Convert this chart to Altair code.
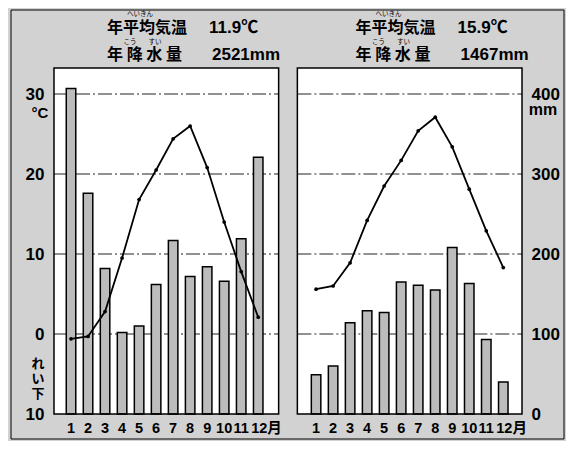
import altair as alt
import pandas as pd

# ---------------- data ----------------
months = list(range(1, 13))
month_labels = ["1", "2", "3", "4", "5", "6", "7", "8", "9", "10", "11", "12月"]
temp_a = [-0.6, -0.3, 2.8, 9.5, 16.8, 20.5, 24.4, 26.0, 20.8, 14.0, 7.8, 2.1]
prec_a = [407, 276, 182, 102, 110, 162, 217, 172, 184, 166, 219, 321]
temp_b = [5.6, 6.0, 8.9, 14.2, 18.5, 21.7, 25.4, 27.1, 23.4, 18.1, 12.9, 8.3]
prec_b = [49, 60, 114, 129, 127, 165, 161, 155, 208, 163, 93, 40]
title_a = ["年平均気温", "11.9℃", "年 降 水 量", "2521mm"]
title_b = ["年平均気温", "15.9℃", "年 降 水 量", "1467mm"]
temp_ticks = [30, 20, 10, 0, -10]
prec_ticks = [400, 300, 200, 100, 0]
grid_levels = [100, 200, 300, 400]

# ---------------- layout ----------------
W, H = 478, 346
PREC_DOM = [0, 432.5]
TEMP_DOM = [-10, 33.25]
X_DOM = [0, 27.5]
OFFSETS = [0.0, 14.4]
SPANS = [(0.0, 13.2), (14.3, 27.5)]
PANEL_PX = [0.0, W * 14.3 / 27.5]

NUM_FONT = "Liberation Sans Narrow, Liberation Sans, Noto Sans CJK JP"
JP_FONT = "Noto Sans CJK JP"
BG = "#d2d2d2"

rows = []
for name, off, temps, precs in zip(["A", "B"], OFFSETS, [temp_a, temp_b], [prec_a, prec_b]):
    for m, lab, t, p in zip(months, month_labels, temps, precs):
        rows.append({"panel": name, "month": m, "label": lab, "xpos": m + off, "temp": t, "prec": p})
df = pd.DataFrame(rows)

panels = pd.DataFrame({"panel": ["A", "B"],
                       "x0": [s[0] for s in SPANS], "x1": [s[1] for s in SPANS],
                       "y0": [PREC_DOM[0]] * 2, "y1": [PREC_DOM[1]] * 2})
grid = pd.DataFrame([{"x0": s[0], "x1": s[1], "level": lv} for s in SPANS for lv in grid_levels])

xs = alt.Scale(domain=X_DOM, nice=False, zero=False)
ps = alt.Scale(domain=PREC_DOM, nice=False, zero=False)
ts = alt.Scale(domain=TEMP_DOM, nice=False, zero=False)

frame = alt.Chart(pd.DataFrame({"a": [0]})).mark_rect(fill="transparent", stroke="black", strokeWidth=1).encode(
    x=alt.value(-38), x2=alt.value(W + 37), y=alt.value(-58), y2=alt.value(H + 25))

panel_fill = alt.Chart(panels).mark_rect(fill="white", strokeWidth=0).encode(
    x=alt.X("x0:Q", scale=xs, axis=None), x2="x1:Q",
    y=alt.Y("y0:Q", scale=ps, axis=None), y2="y1:Q")

grid_rules = alt.Chart(grid).mark_rule(color="#222222", strokeWidth=1, strokeDash=[14, 3, 2, 3]).encode(
    x=alt.X("x0:Q", scale=xs, axis=None), x2="x1:Q",
    y=alt.Y("level:Q", scale=ps, axis=None))

bars = alt.Chart(df).mark_bar(size=9.5, fill="#bcbcbc", stroke="black", strokeWidth=1.5).encode(
    x=alt.X("xpos:Q", scale=xs, axis=None),
    y=alt.Y("prec:Q", scale=ps,
            axis=alt.Axis(orient="right", values=prec_ticks, domain=False, ticks=False, grid=False,
                          title=None, labelFont=NUM_FONT, labelFontSize=17, labelFontWeight="bold",
                          labelColor="black", labelPadding=4, labelOverlap=False, labelFlush=False)))

line = alt.Chart(df).mark_line(color="black", strokeWidth=1.8).encode(
    x=alt.X("xpos:Q", scale=xs, axis=None),
    y=alt.Y("temp:Q", scale=ts,
            axis=alt.Axis(orient="left", values=temp_ticks, labelExpr="'' + abs(datum.value)",
                          domain=False, ticks=False, grid=False, title=None,
                          labelFont=NUM_FONT, labelFontSize=17, labelFontWeight="bold",
                          labelColor="black", labelPadding=5, labelOverlap=False, labelFlush=False)),
    detail="panel:N")

pts = alt.Chart(df).mark_point(filled=True, color="black", size=14, opacity=1).encode(
    x=alt.X("xpos:Q", scale=xs, axis=None),
    y=alt.Y("temp:Q", scale=ts, axis=None))

panel_border = alt.Chart(panels).mark_rect(fill="transparent", stroke="black", strokeWidth=1.5).encode(
    x=alt.X("x0:Q", scale=xs, axis=None), x2="x1:Q",
    y=alt.Y("y0:Q", scale=ps, axis=None), y2="y1:Q")

month_text = alt.Chart(df).transform_filter("datum.month < 12").mark_text(
    font=NUM_FONT, fontSize=14.5, fontWeight="bold", color="black",
    baseline="middle", align="center").encode(
    x=alt.X("xpos:Q", scale=xs, axis=None), y=alt.value(H + 15), text="label:N")

month_last = alt.Chart(df).transform_filter("datum.month == 12").mark_text(
    font=NUM_FONT, fontSize=14.5, fontWeight="bold", color="black",
    baseline="middle", align="left", dx=-7).encode(
    x=alt.X("xpos:Q", scale=xs, axis=None), y=alt.value(H + 15), text="label:N")

one = pd.DataFrame({"a": [0]})


def txt(text, x, y, font, size, align="left", weight="bold", lb=None, lh=None):
    kw = dict(text=text, font=font, fontSize=size, fontWeight=weight, align=align,
              baseline="middle", color="black")
    if lb is not None:
        kw["lineBreak"] = lb
    if lh is not None:
        kw["lineHeight"] = lh
    return alt.Chart(one).mark_text(**kw).encode(x=alt.value(x), y=alt.value(y))


texts = []
for px, tl in zip(PANEL_PX, [title_a, title_b]):
    texts += [
        txt(tl[0], px + 58, -40, JP_FONT, 16),
        txt(tl[1], px + 160, -40, NUM_FONT, 17),
        txt(tl[2], px + 58, -13, JP_FONT, 16),
        txt(tl[3], px + 163, -13, NUM_FONT, 17),
        txt("へいきん", px + 91, -54.5, JP_FONT, 6.5, align="center", weight="normal"),
        txt("こう", px + 81, -26.5, JP_FONT, 6.5, align="center", weight="normal"),
        txt("すい", px + 106, -26.5, JP_FONT, 6.5, align="center", weight="normal"),
    ]
texts += [
    txt("°C", -9, 45, NUM_FONT, 15, align="center"),
    txt("れ\nい\n下", -11, 296, JP_FONT, 13, align="center", lb="\n", lh=15),
    txt("mm", W + 16, 42, NUM_FONT, 16, align="center"),
]

chart = alt.layer(frame, panel_fill, grid_rules, bars, line, pts, panel_border, month_text, month_last,
                  *texts).resolve_scale(
    y="independent"
).properties(
    width=W, height=H,
    autosize=alt.AutoSizeParams(type="none"),
    padding={"left": 41, "top": 60, "right": 39, "bottom": 27},
    background=BG,
).configure_view(stroke=None, fill=None)

chart.save("out.html", embed_options={"renderer": "svg", "actions": False})
